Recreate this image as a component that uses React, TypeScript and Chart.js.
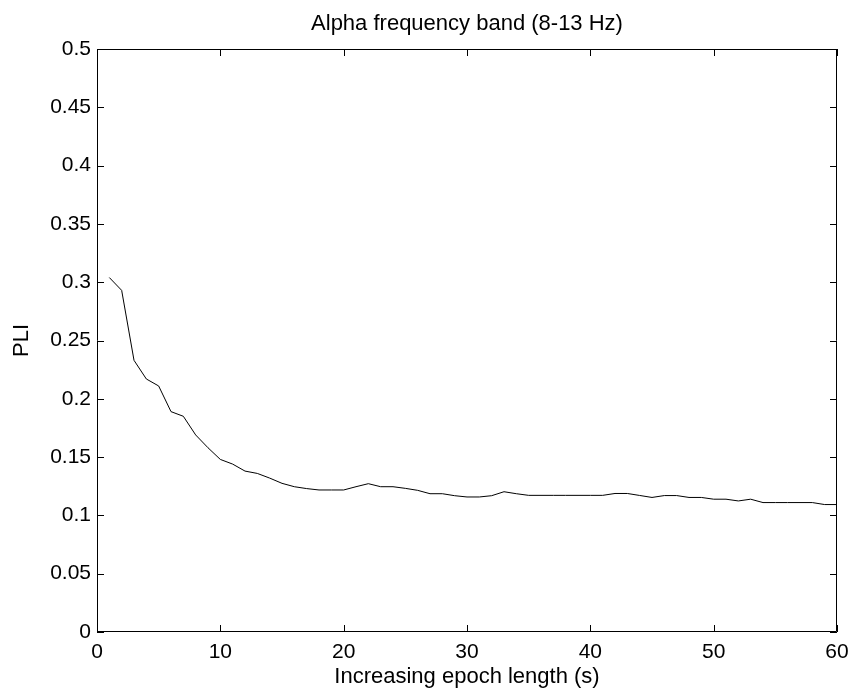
import React, { useEffect, useRef } from "react";
import { Chart, registerables } from "chart.js";

Chart.register(...registerables);

const epochLengths: number[] = Array.from({ length: 60 }, (_, i) => i + 1);
const pliValues: number[] = [
  0.304, 0.293, 0.233, 0.217, 0.211, 0.189, 0.185, 0.169, 0.158, 0.148,
  0.144, 0.138, 0.136, 0.132, 0.1275, 0.1246, 0.123, 0.1218, 0.1218, 0.1218,
  0.1246, 0.1272, 0.1246, 0.1246, 0.1232, 0.1215, 0.1186, 0.1186, 0.1169, 0.1158,
  0.1158, 0.1169, 0.1203, 0.1186, 0.1172, 0.1172, 0.1172, 0.1172, 0.1172, 0.1172,
  0.1172, 0.1188, 0.1188, 0.1171, 0.1154, 0.117, 0.117, 0.1154, 0.1154, 0.1139,
  0.1139, 0.1124, 0.1139, 0.111, 0.111, 0.111, 0.111, 0.111, 0.1093, 0.1093,
];
const titleText = "Alpha frequency band (8-13 Hz)";
const xLabel = "Increasing epoch length (s)";
const yLabel = "PLI";

const FONT = "'Liberation Sans', Arial, Helvetica, sans-serif";

const boxTicks = {
  id: "boxTicks",
  afterDraw(chart: any) {
    const { ctx, chartArea } = chart;
    const { left, right, top, bottom } = chartArea;
    const xs = chart.scales.x;
    const ys = chart.scales.y;
    const len = 7;
    ctx.save();
    ctx.strokeStyle = "#000";
    ctx.lineWidth = 1;
    ctx.beginPath();
    ctx.rect(left + 0.5, top + 0.5, right - left - 1, bottom - top - 1);
    ctx.stroke();
    ctx.beginPath();
    xs.ticks.forEach((t: any) => {
      const px = Math.round(xs.getPixelForValue(t.value)) + 0.5;
      ctx.moveTo(px, bottom);
      ctx.lineTo(px, bottom - len);
      ctx.moveTo(px, top);
      ctx.lineTo(px, top + len);
    });
    ys.ticks.forEach((t: any) => {
      const py = Math.round(ys.getPixelForValue(t.value)) + 0.5;
      ctx.moveTo(left, py);
      ctx.lineTo(left + len, py);
      ctx.moveTo(right, py);
      ctx.lineTo(right - len, py);
    });
    ctx.stroke();
    // axes title, centred over the plot area as in the source figure
    ctx.fillStyle = "#000";
    ctx.font = `22px ${FONT}`;
    ctx.textAlign = "center";
    ctx.textBaseline = "middle";
    ctx.fillText(titleText, (left + right) / 2, top - 25);
    ctx.restore();
  },
};

export default function App() {
  const ref = useRef<HTMLCanvasElement | null>(null);
  useEffect(() => {
    if (!ref.current) return;
    const chart = new Chart(ref.current, {
      type: "line",
      data: {
        labels: epochLengths,
        datasets: [
          {
            data: epochLengths.map((x, i) => ({ x, y: pliValues[i] })),
            borderColor: "#000",
            borderWidth: 1,
            pointRadius: 0,
            tension: 0,
            fill: false,
          },
        ],
      },
      options: {
        responsive: false,
        animation: false,
        layout: { padding: { left: 0, right: 14, top: 49, bottom: 0 } },
        plugins: {
          legend: { display: false },
          tooltip: { enabled: false },
          title: { display: false },
        },
        scales: {
          x: {
            type: "linear",
            min: 0,
            max: 60,
            ticks: {
              stepSize: 10,
              color: "#000",
              padding: 8,
              font: { family: FONT, size: 21 },
              maxRotation: 0,
            },
            grid: { display: false, drawTicks: false },
            border: { display: false },
            title: {
              display: true,
              text: xLabel,
              color: "#000",
              font: { family: FONT, size: 22 },
              padding: { top: 0, bottom: 3 },
            },
            afterFit: (s: any) => {
              s.height = 61;
              s.paddingLeft = 0;
              s.paddingRight = 0;
            },
          },
          y: {
            type: "linear",
            min: 0,
            max: 0.5,
            ticks: {
              stepSize: 0.05,
              color: "#000",
              padding: 6,
              font: { family: FONT, size: 21 },
              callback: (v: any) => String(Number(Number(v).toFixed(2))),
            },
            grid: { display: false, drawTicks: false },
            border: { display: false },
            title: {
              display: true,
              text: yLabel,
              color: "#000",
              font: { family: FONT, size: 22 },
              padding: { top: 9, bottom: 0 },
            },
            afterFit: (s: any) => {
              s.width = 97;
              s.paddingTop = 0;
              s.paddingBottom = 0;
            },
          },
        },
      },
      plugins: [boxTicks],
    });
    return () => chart.destroy();
  }, []);
  return (
    <div style={{ position: "fixed", left: 0, top: 0, width: 851, height: 693, background: "#fff" }}>
      <canvas ref={ref} width={851} height={693} style={{ width: 851, height: 693 }} />
    </div>
  );
}
